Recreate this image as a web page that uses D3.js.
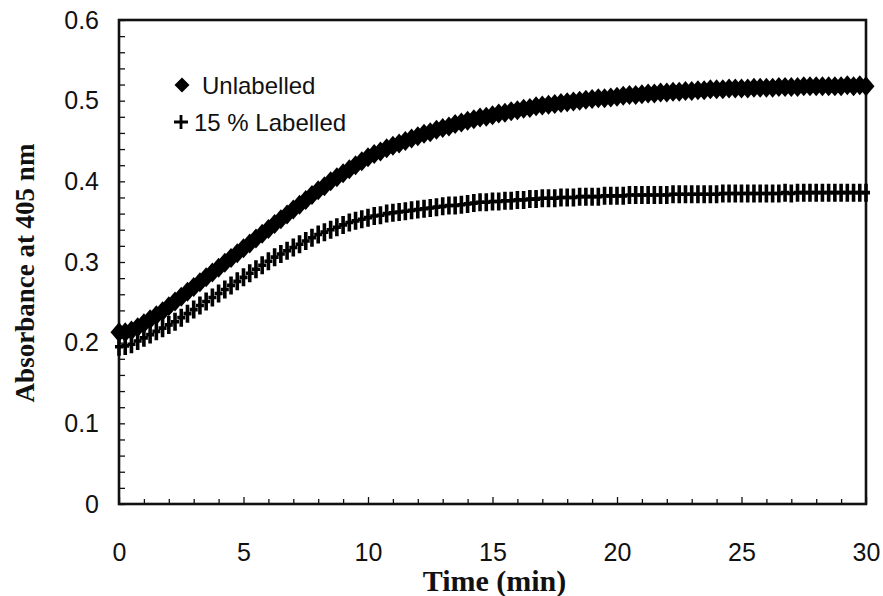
<!DOCTYPE html>
<html>
<head>
<meta charset="utf-8">
<script src="https://cdn.jsdelivr.net/npm/d3@7/dist/d3.min.js"></script>
<style>
  html, body { margin: 0; padding: 0; background: #fff; }
  svg { display: block; }
</style>
</head>
<body>
<div id="chart"></div>
<script>
// ---------------- data ----------------
const sampleInterval = 0.25; // minutes between readings
const seriesNames = ["Unlabelled", "15 % Labelled"];
const unlabelled = [
  0.213, 0.213, 0.215, 0.219,
  0.224, 0.229, 0.234, 0.239,
  0.245, 0.251, 0.257, 0.263,
  0.269, 0.275, 0.281, 0.287,
  0.293, 0.299, 0.305, 0.311,
  0.317, 0.323, 0.329, 0.335,
  0.341, 0.347, 0.353, 0.359,
  0.365, 0.371, 0.377, 0.383,
  0.389, 0.394, 0.400, 0.405,
  0.410, 0.415, 0.420, 0.425,
  0.430, 0.434, 0.437, 0.441,
  0.444, 0.447, 0.450, 0.453,
  0.456, 0.459, 0.461, 0.464,
  0.466, 0.468, 0.471, 0.473,
  0.475, 0.477, 0.479, 0.480,
  0.482, 0.484, 0.485, 0.487,
  0.488, 0.490, 0.491, 0.493,
  0.494, 0.495, 0.496, 0.497,
  0.498, 0.499, 0.500, 0.501,
  0.502, 0.503, 0.503, 0.504,
  0.505, 0.506, 0.507, 0.507,
  0.508, 0.509, 0.509, 0.510,
  0.510, 0.511, 0.511, 0.512,
  0.512, 0.513, 0.513, 0.514,
  0.514, 0.514, 0.515, 0.515,
  0.515, 0.515, 0.516, 0.516,
  0.516, 0.516, 0.517, 0.517,
  0.517, 0.517, 0.518, 0.518,
  0.518, 0.518, 0.518, 0.518,
  0.518, 0.519, 0.518, 0.519,
  0.518
];
const labelled15 = [
  0.195, 0.196, 0.198, 0.202,
  0.206, 0.210, 0.214, 0.218,
  0.222, 0.226, 0.231, 0.236,
  0.241, 0.246, 0.251, 0.256,
  0.261, 0.266, 0.271, 0.276,
  0.281, 0.286, 0.291, 0.296,
  0.301, 0.306, 0.310, 0.314,
  0.318, 0.322, 0.326, 0.330,
  0.334, 0.337, 0.340, 0.343,
  0.346, 0.349, 0.351, 0.353,
  0.355, 0.357, 0.358, 0.360,
  0.361, 0.362, 0.363, 0.364,
  0.365, 0.366, 0.367, 0.368,
  0.369, 0.370, 0.370, 0.371,
  0.372, 0.373, 0.374, 0.374,
  0.375, 0.375, 0.376, 0.376,
  0.377, 0.377, 0.378, 0.378,
  0.379, 0.379, 0.379, 0.380,
  0.380, 0.380, 0.381, 0.381,
  0.381, 0.381, 0.382, 0.382,
  0.382, 0.382, 0.383, 0.383,
  0.383, 0.383, 0.383, 0.383,
  0.383, 0.384, 0.384, 0.384,
  0.384, 0.384, 0.384, 0.384,
  0.384, 0.385, 0.385, 0.385,
  0.385, 0.385, 0.385, 0.385,
  0.385, 0.385, 0.385, 0.386,
  0.385, 0.386, 0.386, 0.386,
  0.386, 0.386, 0.386, 0.386,
  0.386, 0.386, 0.386, 0.386,
  0.386
];
const xTickValues = [0, 5, 10, 15, 20, 25, 30];
const yTickValues = [0, 0.1, 0.2, 0.3, 0.4, 0.5, 0.6];
const xTitle = "Time (min)";
const yTitle = "Absorbance at 405 nm";

// ---------------- layout ----------------
const W = 883, H = 596;
const margin = { left: 119, right: 17, top: 20, bottom: 92 };
const innerW = W - margin.left - margin.right;
const innerH = H - margin.top - margin.bottom;

const svg = d3.select("#chart").append("svg")
  .attr("width", W).attr("height", H)
  .style("font-family", "'Liberation Sans', Arial, sans-serif");

const g = svg.append("g").attr("transform", `translate(${margin.left},${margin.top})`);

const x = d3.scaleLinear().domain([0, 30]).range([0, innerW]);
const y = d3.scaleLinear().domain([0, 0.6]).range([innerH, 0]);

// minor ticks (inside), y every 0.02, x every 1
const yMinor = d3.range(0, 0.6001, 0.02);
const xMinor = d3.range(0, 30.001, 1);

g.append("g")
  .call(d3.axisRight(y).tickValues(yMinor).tickSize(6).tickFormat(""))
  .call(s => s.select(".domain").remove())
  .selectAll("line").attr("stroke", "#111").attr("stroke-width", 1.3);

g.append("g").attr("transform", `translate(0,${innerH})`)
  .call(d3.axisTop(x).tickValues(xMinor).tickSize(5).tickFormat(""))
  .call(s => s.select(".domain").remove())
  .selectAll("line")
  .attr("stroke", "#111").attr("stroke-width", 1.3)
  .attr("y2", d => (d % 5 === 0 ? -7 : -5));

// tick labels
g.append("g").attr("transform", `translate(0,${innerH})`)
  .call(d3.axisBottom(x).tickValues(xTickValues).tickSize(0).tickPadding(39).tickFormat(d3.format("d")))
  .call(s => s.select(".domain").remove())
  .selectAll("text")
  .attr("font-size", 25).attr("fill", "#111")
  .attr("font-family", "'Liberation Sans', Arial, sans-serif");

g.append("g")
  .call(d3.axisLeft(y).tickValues(yTickValues).tickSize(0).tickPadding(20)
    .tickFormat(d => d === 0 ? "0" : d3.format(".1f")(d)))
  .call(s => s.select(".domain").remove())
  .selectAll("text")
  .attr("font-size", 25).attr("fill", "#111")
  .attr("font-family", "'Liberation Sans', Arial, sans-serif");

// frame
g.append("rect")
  .attr("x", 0).attr("y", 0).attr("width", innerW).attr("height", innerH)
  .attr("fill", "none").attr("stroke", "#111").attr("stroke-width", 2.6);

// axis titles
svg.append("text")
  .attr("x", margin.left + innerW / 2 + 2).attr("y", 591)
  .attr("text-anchor", "middle")
  .attr("font-family", "'Liberation Serif', 'Times New Roman', serif")
  .attr("font-weight", "bold").attr("font-size", 30).attr("fill", "#111")
  .text(xTitle);

svg.append("text")
  .attr("transform", `translate(34,${margin.top + innerH / 2 + 11}) rotate(-90)`)
  .attr("text-anchor", "middle")
  .attr("font-family", "'Liberation Serif', 'Times New Roman', serif")
  .attr("font-weight", "bold").attr("font-size", 27).attr("fill", "#111")
  .text(yTitle);

// markers
const diamondPath = "M0,-10L8.5,0L0,10L-8.5,0Z";
const crossPath = "M-4,0H4M0,-9V9";

const uData = unlabelled.map((v, i) => ({ t: i * sampleInterval, v }));
const lData = labelled15.map((v, i) => ({ t: i * sampleInterval, v }));

g.append("g").selectAll("path").data(lData).join("path")
  .attr("transform", d => `translate(${x(d.t)},${y(d.v)})`)
  .attr("d", crossPath)
  .attr("fill", "none").attr("stroke", "#000").attr("stroke-width", 3.6);

g.append("g").selectAll("path").data(uData).join("path")
  .attr("transform", d => `translate(${x(d.t)},${y(d.v)})`)
  .attr("d", diamondPath)
  .attr("fill", "#000");

// legend
const legend = svg.append("g");
legend.append("path")
  .attr("transform", "translate(182,85)")
  .attr("d", "M0,-7.5L7.5,0L0,7.5L-7.5,0Z").attr("fill", "#000");
legend.append("text").attr("x", 202).attr("y", 94)
  .attr("font-size", 24).attr("fill", "#111").text(seriesNames[0]);
legend.append("path")
  .attr("transform", "translate(181,122)")
  .attr("d", "M-7,0H7M0,-7V7")
  .attr("stroke", "#000").attr("stroke-width", 2.8).attr("fill", "none");
legend.append("text").attr("x", 194).attr("y", 131)
  .attr("font-size", 24).attr("fill", "#111").text(seriesNames[1]);
</script>
</body>
</html>
